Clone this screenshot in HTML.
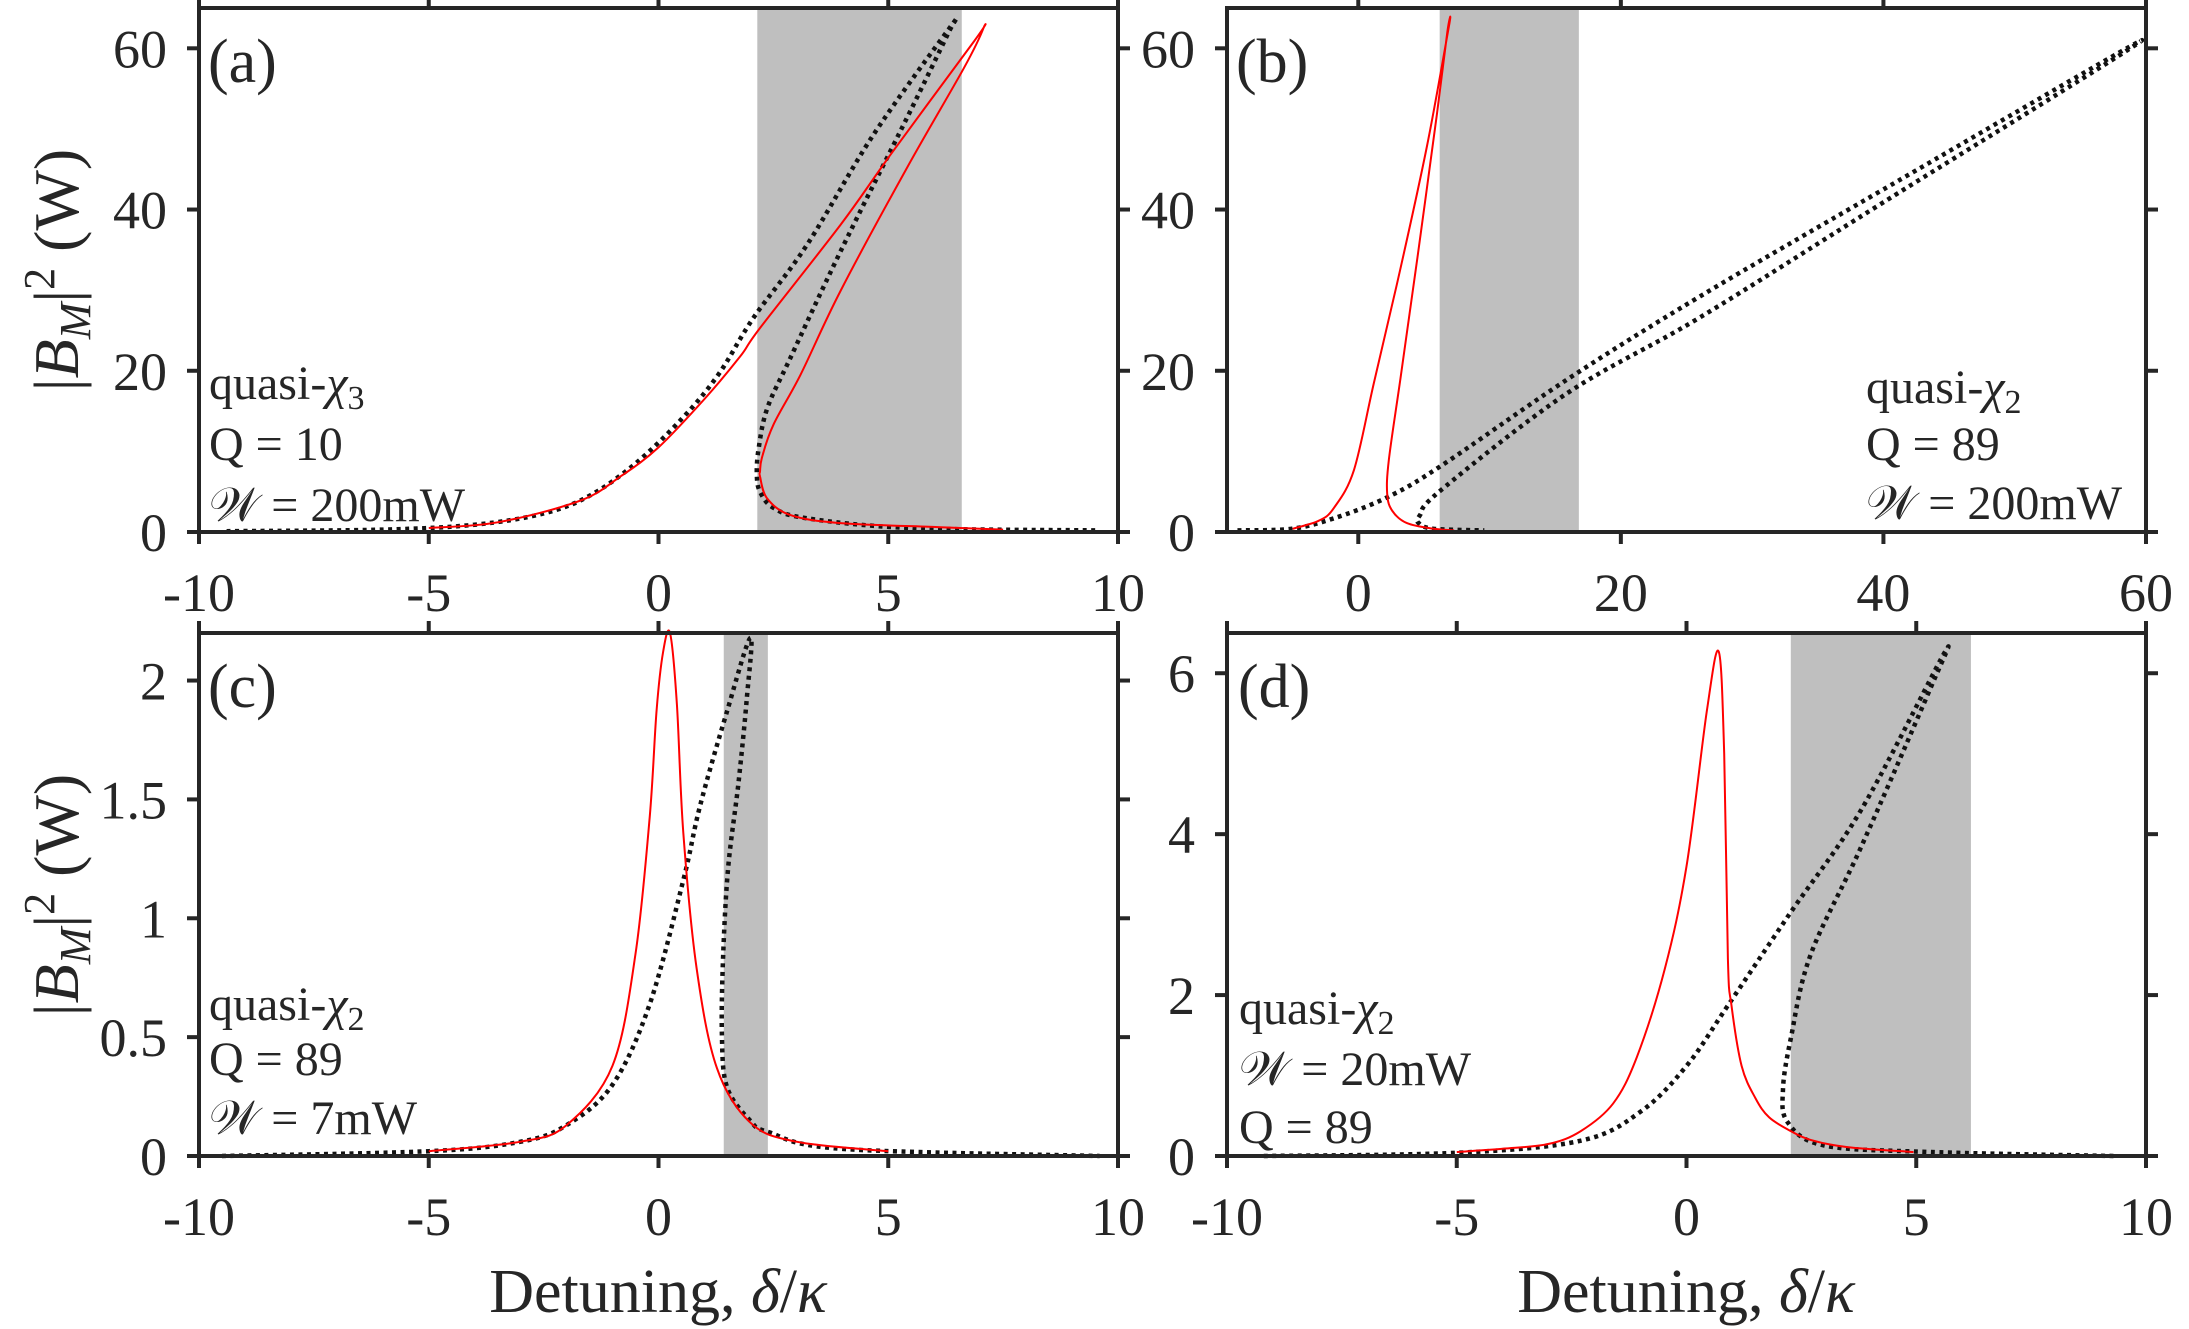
<!DOCTYPE html>
<html><head><meta charset="utf-8">
<style>
html,body{margin:0;padding:0;background:#fff;}
svg{display:block;}
text{font-family:"Liberation Serif",serif;fill:#262626;}
</style></head>
<body>
<svg id="fig" width="2189" height="1329" viewBox="0 0 2189 1329" xmlns="http://www.w3.org/2000/svg"></svg>
<script>
// ---------- data ----------
// Panel (a)
const aShade = [2.15, 6.6];
const aRedX = [-5, -3.5, -1.7, -0.8, 0, 1.0, 1.78, 2.21, 3.96, 5.05, 6.87, 7.08, 6.65, 5.41, 3.96, 3.09, 2.5, 2.25, 2.21, 2.21, 2.36, 2.87, 3.96, 6.14, 7.5];
const aRedY = [0.5, 1.2, 3.9, 7.0, 10.5, 16.5, 21.8, 25.3, 38.1, 46.8, 60.9, 62.6, 57.6, 45.2, 29.9, 19.5, 13.3, 9.2, 7.5, 6.9, 4.2, 2.1, 1.1, 0.6, 0.3];
const aBlkX = [-9.4, -6, -4, -2.5, -1.5, -0.5, 0.5, 1.3, 2.07, 3.23, 4.68, 6.36, 6.29, 5.41, 3.96, 2.87, 2.37, 2.18, 2.14, 2.21, 2.5, 3.23, 5.5, 9.6];
const aBlkY = [0.1, 0.3, 0.9, 2.3, 4.5, 8.5, 14.0, 19.5, 26.6, 35.6, 49.3, 62.7, 61.7, 51.4, 34.8, 21.6, 15.4, 10.4, 7.1, 5.0, 3.0, 1.7, 0.5, 0.2];
// Panel (b)
const bShade = [6.2, 16.8];
const bRedX = [-5.0, -3.0, -1.85, -0.33, 1.19, 3.2, 5.25, 6.9, 6.77, 6.0, 4.5, 3.2, 2.33, 2.2, 2.6, 3.7, 5.75, 7.3];
const bRedY = [0.4, 1.4, 3.0, 7.7, 18.5, 32.6, 48.0, 62.7, 61.9, 52.0, 34.0, 18.9, 9.0, 4.7, 2.6, 1.1, 0.4, 0.2];
const bBlkX = [-9.2, -5.1, -1.85, 2.2, 6.3, 15.9, 26.0, 40.0, 59.7, 40.0, 26.0, 15.9, 6.3, 4.7, 4.6, 5.75, 9.6];
const bBlkY = [0.2, 0.4, 1.7, 4.3, 8.2, 18.9, 29.2, 42.5, 61.0, 40.9, 26.6, 17.2, 5.2, 2.1, 1.1, 0.4, 0.2];
// Panel (c)
const cShade = [1.42, 2.38];
const cRedX = [-5, -3, -2, -1, -0.5, -0.19, -0.04, 0.1, 0.25, 0.4, 0.54, 0.83, 1.27, 2.0, 3.0, 5.0];
const cRedY = [0.02, 0.06, 0.13, 0.38, 0.85, 1.43, 1.88, 2.12, 2.2, 1.9, 1.36, 0.79, 0.37, 0.14, 0.06, 0.02];
const cBlkX = [-9.5, -5, -3, -2, -1, -0.19, 0.54, 0.9, 1.49, 2.0, 1.92, 1.74, 1.52, 1.41, 1.38, 1.49, 1.99, 2.4, 4.0, 9.6];
const cBlkY = [0.0, 0.02, 0.06, 0.13, 0.3, 0.64, 1.16, 1.47, 1.87, 2.18, 1.92, 1.57, 1.22, 0.86, 0.51, 0.29, 0.15, 0.1, 0.03, 0.0];
// Panel (d)
const dShade = [2.27, 6.19];
const dRedX = [-5, -4, -3, -2.3, -1.6, -1.08, -0.47, 0, 0.44, 0.7, 0.82, 0.9, 0.98, 1.2, 1.5, 1.8, 2.27, 2.7, 3.5, 4.94];
const dRedY = [0.05, 0.09, 0.15, 0.31, 0.65, 1.23, 2.33, 3.6, 5.52, 6.27, 5.0, 2.45, 1.87, 1.12, 0.72, 0.48, 0.31, 0.2, 0.11, 0.05];
const dBlkX = [-9.2, -5, -2.3, -1, 0, 0.9, 2.27, 3.8, 5.6, 5.3, 3.8, 2.7, 2.27, 2.1, 2.2, 3.0, 5.3, 9.3];
const dBlkY = [0.0, 0.04, 0.19, 0.55, 1.12, 1.87, 3.03, 4.3, 6.24, 5.8, 3.84, 2.5, 1.46, 0.83, 0.42, 0.13, 0.05, 0.0];
// ticks
const abcXTicks = [-10, -5, 0, 5, 10];
const bXTicks = [0, 20, 40, 60];
const abYTicks = [0, 20, 40, 60];
const cYTicks = [0, 0.5, 1, 1.5, 2];
const cYTickLabels = ["0", "0.5", "1", "1.5", "2"];
const dYTicks = [0, 2, 4, 6];

// ---------- layout ----------
const NS = "http://www.w3.org/2000/svg";
const svg = document.getElementById('fig');
function mk(tag, attrs, parent) {
  const e = document.createElementNS(NS, tag);
  for (const k in attrs) e.setAttribute(k, attrs[k]);
  (parent || svg).appendChild(e);
  return e;
}
function panel(name, box, xlim, ylim) {
  const g = mk('g', {});
  
  
  const sx = v => box.l + (v - xlim[0]) / (xlim[1] - xlim[0]) * (box.r - box.l);
  const sy = v => box.b - (v - ylim[0]) / (ylim[1] - ylim[0]) * (box.b - box.t);
  return {g, box, sx, sy};
}
function shade(P, rng, name) {
  const r = mk('rect', {x: P.sx(rng[0]), y: P.box.t, width: P.sx(rng[1]) - P.sx(rng[0]), height: P.box.b - P.box.t, fill: '#bfbfbf'}, P.g);
  
  
}
function curvePath(P, xs, ys) {
  const pts = xs.map((x, i) => [P.sx(x), P.sy(ys[i])]);
  let d = 'M' + pts[0][0].toFixed(1) + ',' + pts[0][1].toFixed(1);
  for (let i = 0; i < pts.length - 1; i++) {
    const p0 = pts[Math.max(0, i - 1)], p1 = pts[i], p2 = pts[i + 1], p3 = pts[Math.min(pts.length - 1, i + 2)];
    const c1 = [p1[0] + (p2[0] - p0[0]) / 6, p1[1] + (p2[1] - p0[1]) / 6];
    const c2 = [p2[0] - (p3[0] - p1[0]) / 6, p2[1] - (p3[1] - p1[1]) / 6];
    d += 'C' + c1[0].toFixed(1) + ',' + c1[1].toFixed(1) + ' ' + c2[0].toFixed(1) + ',' + c2[1].toFixed(1) + ' ' + p2[0].toFixed(1) + ',' + p2[1].toFixed(1);
  }
  return d;
}
function series(P, xs, ys, kind, name) {
  const attrs = kind === 'red'
    ? {d: curvePath(P, xs, ys), fill: 'none', stroke: '#ff0000', 'stroke-width': 2}
    : {d: curvePath(P, xs, ys), fill: 'none', stroke: '#111', 'stroke-width': 4.5, 'stroke-dasharray': '4 4.5'};
  const p = mk('path', attrs, P.g);
  
  
}
function frame(P, xt, yt, xlabels, ylabels, xLabelArr, yLabelArr, name) {
  const b = P.box, c = '#262626', tl = 12;
  const f = mk('rect', {x: b.l, y: b.t, width: b.r - b.l, height: b.b - b.t, fill: 'none', stroke: c, 'stroke-width': 4}, P.g);
  
  
  xt.forEach((v, i) => {
    const x = P.sx(v);
    mk('line', {x1: x, x2: x, y1: b.b, y2: b.b + tl, stroke: c, 'stroke-width': 4}, P.g);
    mk('line', {x1: x, x2: x, y1: b.t, y2: b.t - tl, stroke: c, 'stroke-width': 4}, P.g);
    if (xlabels) {
      const t = mk('text', {x: x, y: b.b + 79, 'font-size': 54, 'text-anchor': 'middle'}, P.g);
      t.textContent = xLabelArr ? xLabelArr[i] : String(v);
      
      
    }
  });
  yt.forEach((v, i) => {
    const y = P.sy(v);
    mk('line', {x1: b.l, x2: b.l - tl, y1: y, y2: y, stroke: c, 'stroke-width': 4}, P.g);
    mk('line', {x1: b.r, x2: b.r + tl, y1: y, y2: y, stroke: c, 'stroke-width': 4}, P.g);
    const t = mk('text', {x: b.l - 32, y: y + 19, 'font-size': 54, 'text-anchor': 'end'}, P.g);
    t.textContent = yLabelArr ? yLabelArr[i] : String(v);
    
    
  });
}
function label(P, x, y, html, size, name) {
  const t = mk('text', {x: x, y: y, 'font-size': size}, P.g);
  t.innerHTML = html;
  
  
}

// Panel (a)
const A = panel('panel-a', {l: 199, r: 1118, t: 8, b: 532}, [-10, 10], [0, 65]);
shade(A, aShade, 'shaded-region-a');
series(A, aBlkX, aBlkY, 'blk', 'dotted-curve-a');
series(A, aRedX, aRedY, 'red', 'red-curve-a');
frame(A, abcXTicks, abYTicks, true, true, null, null, 'panel-a');
label(A, 208, 82, '(a)', 62, 'panel-label-a');
label(A, 209, 399, 'quasi-<tspan font-style="italic">χ</tspan><tspan font-size="34" dy="10">3</tspan>', 48, 'annotation-a-mode');
label(A, 209, 460, 'Q = 10', 48, 'annotation-a-q');
label(A, 209, 521, '𝒲 = 200mW', 48, 'annotation-a-power');

// Panel (b)
const B = panel('panel-b', {l: 1227, r: 2146, t: 8, b: 532}, [-10, 60], [0, 65]);
shade(B, bShade, 'shaded-region-b');
series(B, bBlkX, bBlkY, 'blk', 'dotted-curve-b');
series(B, bRedX, bRedY, 'red', 'red-curve-b');
frame(B, bXTicks, abYTicks, true, true, null, null, 'panel-b');
label(B, 1236, 82, '(b)', 62, 'panel-label-b');
label(B, 1866, 403, 'quasi-<tspan font-style="italic">χ</tspan><tspan font-size="34" dy="10">2</tspan>', 48, 'annotation-b-mode');
label(B, 1866, 460, 'Q = 89', 48, 'annotation-b-q');
label(B, 1866, 519, '𝒲 = 200mW', 48, 'annotation-b-power');

// Panel (c)
const C = panel('panel-c', {l: 199, r: 1118, t: 633, b: 1156}, [-10, 10], [0, 2.2]);
shade(C, cShade, 'shaded-region-c');
series(C, cBlkX, cBlkY, 'blk', 'dotted-curve-c');
series(C, cRedX, cRedY, 'red', 'red-curve-c');
frame(C, abcXTicks, cYTicks, true, true, null, cYTickLabels, 'panel-c');
label(C, 208, 707, '(c)', 62, 'panel-label-c');
label(C, 209, 1020, 'quasi-<tspan font-style="italic">χ</tspan><tspan font-size="34" dy="10">2</tspan>', 48, 'annotation-c-mode');
label(C, 209, 1075, 'Q = 89', 48, 'annotation-c-q');
label(C, 209, 1134, '𝒲 = 7mW', 48, 'annotation-c-power');

// Panel (d)
const D = panel('panel-d', {l: 1227, r: 2146, t: 633, b: 1156}, [-10, 10], [0, 6.5]);
shade(D, dShade, 'shaded-region-d');
series(D, dBlkX, dBlkY, 'blk', 'dotted-curve-d');
series(D, dRedX, dRedY, 'red', 'red-curve-d');
frame(D, abcXTicks, dYTicks, true, true, null, null, 'panel-d');
label(D, 1238, 707, '(d)', 62, 'panel-label-d');
label(D, 1239, 1024, 'quasi-<tspan font-style="italic">χ</tspan><tspan font-size="34" dy="10">2</tspan>', 48, 'annotation-d-mode');
label(D, 1239, 1085, '𝒲 = 20mW', 48, 'annotation-d-power');
label(D, 1239, 1143, 'Q = 89', 48, 'annotation-d-q');

// axis titles
function ytitle(cy, name) {
  const t = mk('text', {x: 0, y: 0, 'font-size': 64, 'text-anchor': 'middle', transform: 'translate(78,' + cy + ') rotate(-90)'});
  t.innerHTML = '|<tspan font-style="italic">B</tspan><tspan font-style="italic" font-size="44" dy="12">M</tspan><tspan dy="-12">|</tspan><tspan font-size="44" dy="-24">2</tspan><tspan dy="24"> (W)</tspan>';
  
  
}
ytitle(270, 'y-axis-title-top');
ytitle(895, 'y-axis-title-bottom');
function xtitle(cx, name) {
  const t = mk('text', {x: cx, y: 1312, 'font-size': 62, 'text-anchor': 'middle'});
  t.innerHTML = 'Detuning, <tspan font-style="italic">δ</tspan>/<tspan font-style="italic">κ</tspan>';
  
  
}
xtitle(658, 'x-axis-title-left');
xtitle(1686, 'x-axis-title-right');
</script>
</body></html>
